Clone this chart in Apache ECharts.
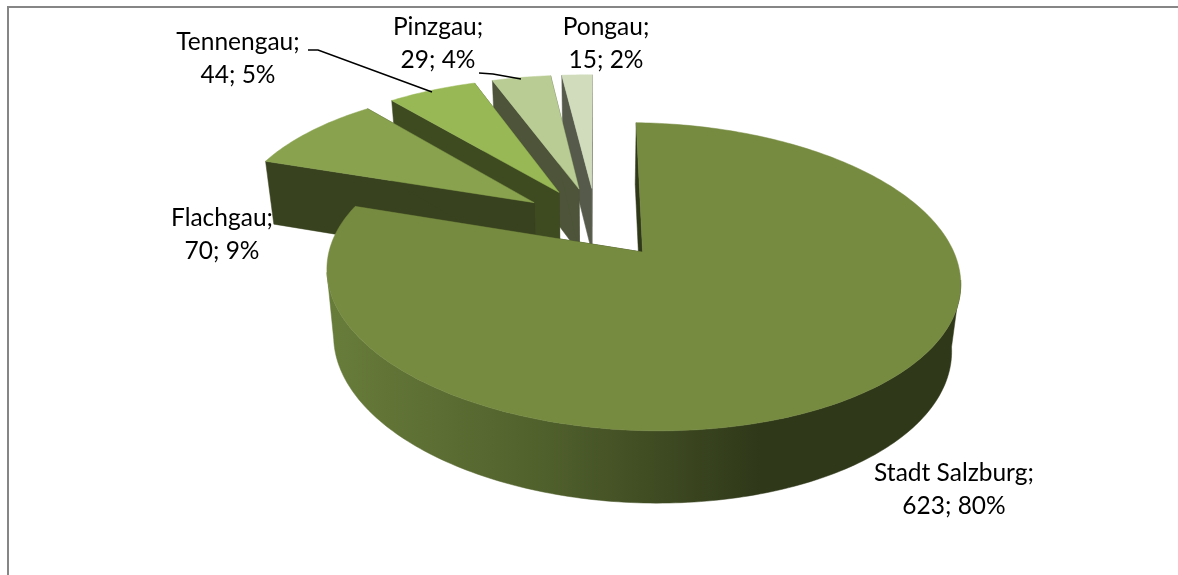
<!DOCTYPE html>
<html>
<head>
<meta charset="utf-8">
<style>
  html, body { margin: 0; padding: 0; background: #fff; }
  #chart { width: 1178px; height: 575px; }
</style>
<script src="https://cdn.jsdelivr.net/npm/echarts@6/dist/echarts.min.js"></script>
</head>
<body>
<div id="chart"></div>
<script>
// data
const categories = ['Stadt Salzburg', 'Flachgau', 'Tennengau', 'Pinzgau', 'Pongau'];
const values = [623, 70, 44, 29, 15];
const percents = [80, 9, 5, 4, 2];

// colours, same order as categories
const topColors = ['#768a40', '#88a24e', '#98b856', '#b8cc93', '#d0dcbc'];
const wallColors = ['#2f3819', '#39421e', '#3e4a20', '#4d5439', '#565a4b'];

// label centres and leader lines
const labelPos = [[954, 490], [222, 235], [238, 59], [438, 44], [606, 44]];
const leaders = [null, null, [[308, 50], [318, 50], [432, 92]], [[479, 73], [493, 74], [521, 79]], null];

// 3d view of the pie
const view = { cx: 596.2, cy: 222.3, rx: 303, ry: 140.8, persp: 0.155, tilt: 0.012, explode: 0.25 };
const floor = { kx: 0.975, ky: 1.035, dy: 65 };

const total = values.reduce((a, b) => a + b, 0);
const rad = Math.PI / 180;

function project(X, T) {
  const s = 1 / (1 + view.persp * T);
  const x = view.rx * X * s;
  const y = -view.ry * T * s;
  return [x, y + view.tilt * x];
}
function onTop(p) {
  return [view.cx + p[0], view.cy + p[1]];
}
function onFloor(p) {
  return [view.cx + p[0] * floor.kx, view.cy + floor.dy + p[1] * floor.ky];
}

function sliceAngles(index) {
  let start = 0;
  for (let i = 0; i < index; i++) start += values[i] / total * 360;
  return [start, start + values[index] / total * 360];
}

function renderSlice(params, api) {
  const i = api.value(0);
  const [a0, a1] = sliceAngles(i);
  const mid = (a0 + a1) / 2 * rad;
  const ox = view.explode * Math.sin(mid);
  const oz = view.explode * Math.cos(mid);
  const apex = project(ox, oz);
  const arc = [];
  for (let a = a0; a < a1; a += 1) arc.push(a);
  arc.push(a1);
  const rim = arc.map(function (a) {
    return { a: a, p: project(ox + Math.sin(a * rad), oz + Math.cos(a * rad)) };
  });
  const children = [];
  const wall = function (points, fill) {
    children.push({ type: 'polygon', silent: true, shape: { points: points }, style: { fill: fill, stroke: fill, lineWidth: 0.5 } });
  };
  // cut faces
  const first = rim[0].p;
  const last = rim[rim.length - 1].p;
  wall([onTop(apex), onTop(first), onFloor(first), onFloor(apex)], wallColors[i]);
  wall([onTop(apex), onTop(last), onFloor(last), onFloor(apex)], wallColors[i]);
  // outer wall, only the part that faces the viewer
  const front = rim.filter(function (r) { return Math.cos(r.a * rad) < -view.persp; });
  if (front.length > 1) {
    const pts = front.map(function (r) { return onTop(r.p); })
      .concat(front.slice().reverse().map(function (r) { return onFloor(r.p); }));
    wall(pts, new echarts.graphic.LinearGradient(330, 0, 760, 0, [
      { offset: 0, color: '#687c3a' },
      { offset: 0.5, color: '#50602c' },
      { offset: 1, color: '#2f3819' }
    ], true));
  }
  // top face
  children.push({
    type: 'polygon',
    silent: true,
    shape: { points: [onTop(apex)].concat(rim.map(function (r) { return onTop(r.p); })) },
    style: { fill: topColors[i], stroke: topColors[i], lineWidth: 0.5 }
  });
  return { type: 'group', children: children };
}

function renderLabel(params, api) {
  const i = api.value(0);
  const children = [{
    type: 'text',
    silent: true,
    style: {
      x: labelPos[i][0],
      y: labelPos[i][1],
      text: categories[i] + ';\n' + values[i] + '; ' + percents[i] + '%',
      align: 'center',
      verticalAlign: 'middle',
      fontFamily: 'Lato',
      fontSize: 24.5,
      lineHeight: 33,
      fill: '#000'
    }
  }];
  if (leaders[i]) {
    children.push({
      type: 'polyline',
      silent: true,
      shape: { points: leaders[i] },
      style: { fill: 'none', stroke: '#000', lineWidth: 1.5 }
    });
  }
  return { type: 'group', children: children };
}

// painter's order: the back slices first
const drawOrder = [4, 3, 2, 1, 0];

const chart = echarts.init(document.getElementById('chart'));
chart.setOption({
  animation: false,
  backgroundColor: '#fff',
  graphic: [{
    type: 'polyline',
    silent: true,
    shape: { points: [[8, 575], [8, 7], [1178, 7]] },
    style: { fill: 'none', stroke: '#868686', lineWidth: 2 }
  }],
  series: [
    {
      type: 'custom',
      coordinateSystem: 'none',
      silent: true,
      renderItem: renderSlice,
      data: drawOrder.map(function (i) { return [i, values[i]]; })
    },
    {
      type: 'custom',
      coordinateSystem: 'none',
      silent: true,
      z: 5,
      renderItem: renderLabel,
      data: values.map(function (v, i) { return [i, v]; })
    }
  ]
});
</script>
</body>
</html>
